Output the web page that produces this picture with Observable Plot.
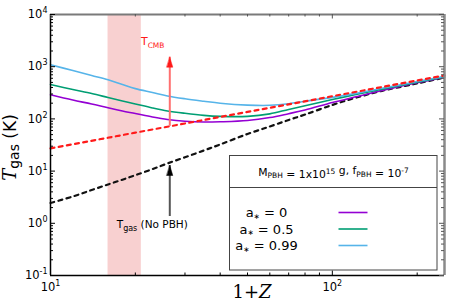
<!DOCTYPE html>
<html><head><meta charset="utf-8">
<script src="https://cdn.jsdelivr.net/npm/d3@7"></script>
<script src="https://cdn.jsdelivr.net/npm/@observablehq/plot@0.6"></script>
<style>body{margin:0;background:#fff;} svg{display:block;}</style>
</head><body><div id="chart"></div>
<script>
// ---- data ----
const redshift     = [10, 12, 14, 16, 18, 20, 23, 26, 30, 35, 40, 50, 60, 70, 80, 100, 120, 150, 200, 250];
const tgasSpin0    = [290, 230, 193, 163, 142, 127, 109, 97.5, 90, 87, 88, 93, 106, 126, 148, 206, 262, 350, 492, 628];
const tgasSpin05   = [456, 366, 307, 257, 220, 193, 162, 142, 128, 117, 112, 112, 125, 152, 178, 235, 290, 372, 505, 638];
const tgasSpin099  = [1087, 845, 678, 561, 455, 380, 320, 275, 243, 218, 200, 184, 182, 195, 218, 258, 305, 385, 520, 649];
const tgasNoPBH    = [2.45, 3.26, 4.34, 5.54, 6.85, 8.34, 10.9, 14.0, 18.4, 24.8, 32.4, 51.4, 71.5, 95.3, 121, 185, 251, 345, 478, 618];
const cmbRedshift  = [10, 20, 50, 100, 250];
const tcmb         = [27.3, 54.5, 136, 272, 681];
const bandRange    = [16, 21];
const spinLabels   = ["0", "0.5", "0.99"];
const seriesColors = ["#9400d3", "#009e73", "#56b4e9"];
const xMajor = [10, 100];
const xMinor = [20, 30, 40, 50, 60, 70, 80, 90, 200];
const yMajor = [0.1, 1, 10, 100, 1000, 10000];
const yMinor = yMajor.slice(0, -1).flatMap(v => [2,3,4,5,6,7,8,9].map(k => +(k * v).toPrecision(3)));
const arrowZ = 26.5;
const cmbArrow = [72, 1520];
const gasArrow = [1.35, 12.8];
const legendTitle = "M_PBH = 1x10^15 g, f_PBH = 10^-7";

// ---- tables ----
const spinSeries = [tgasSpin0, tgasSpin05, tgasSpin099];
const curves = spinSeries.flatMap((s, k) => redshift.map((z, i) => ({z, t: s[i], k})));
const noPBH = redshift.map((z, i) => ({z, t: tgasNoPBH[i]}));
const cmb = cmbRedshift.map((z, i) => ({z, t: tcmb[i]}));

const W = 471, H = 305, mL = 50, mR = 27, mT = 14, mB = 30;
const iW = W - mL - mR, iH = H - mT - mB;
const xDom = [10, 250], yDom = [0.1, 1e4];

const headShape = {draw(ctx, l, r) { ctx.moveTo(0, -l); ctx.lineTo(r, 0); ctx.lineTo(-r, 0); ctx.closePath(); }};

const plot = Plot.plot({
  width: W, height: H, marginLeft: mL, marginRight: mR, marginTop: mT, marginBottom: mB,
  style: {fontFamily: "DejaVu Sans, sans-serif", fontSize: "11.5px", background: "#fff", color: "#000"},
  x: {type: "log", domain: xDom},
  y: {type: "log", domain: yDom},
  marks: [
    Plot.rect([bandRange], {x1: d => d[0], x2: d => d[1], y1: yDom[0], y2: yDom[1], fill: "#f8d0d0"}),
    Plot.line(noPBH, {x: "z", y: "t", stroke: "#111", strokeWidth: 2.2, strokeDasharray: "4,4.3", curve: "catmull-rom"}),
    Plot.line(curves, {x: "z", y: "t", z: "k", stroke: d => seriesColors[d.k], strokeWidth: 1.6, curve: "catmull-rom"}),
    Plot.line(cmb, {x: "z", y: "t", stroke: "#ff1a1a", strokeWidth: 2.2, strokeDasharray: "4,4.3"}),
    // arrows
    Plot.ruleX([arrowZ], {y1: cmbArrow[0], y2: cmbArrow[1], stroke: "#ff7070", strokeWidth: 2}),
    Plot.vector([arrowZ], {x: d => d, y: cmbArrow[1], length: 10, anchor: "end", r: 3, shape: headShape, fill: "#ff1a1a", stroke: "#ff1a1a", strokeWidth: 0.5}),
    Plot.ruleX([arrowZ], {y1: gasArrow[0], y2: gasArrow[1], stroke: "#555", strokeWidth: 2}),
    Plot.vector([arrowZ], {x: d => d, y: gasArrow[1], length: 10, anchor: "end", r: 3, shape: headShape, fill: "#000", stroke: "#000", strokeWidth: 0.5}),
    // frame
    Plot.ruleY([yDom[1]], {stroke: "#7a7a7a", strokeWidth: 2}),
    Plot.ruleX([xDom[1]], {stroke: "#8a8a8a", strokeWidth: 2.5}),
    Plot.ruleX([xDom[0]], {stroke: "#000", strokeWidth: 1.5}),
    Plot.ruleY([yDom[0]], {stroke: "#000", strokeWidth: 1.5}),
    // inward ticks
    Plot.tickX(xMinor, {x: d => d, insetTop: iH - 2.5, stroke: "#000"}),
    Plot.tickX(xMajor, {x: d => d, insetTop: iH - 4.5, stroke: "#000"}),
    Plot.tickX(xMinor, {x: d => d, insetBottom: iH - 2.5, stroke: "#555"}),
    Plot.tickX(xMajor, {x: d => d, insetBottom: iH - 4.5, stroke: "#555"}),
    Plot.tickY(yMinor, {y: d => d, insetRight: iW - 3, stroke: "#000"}),
    Plot.tickY(yMajor, {y: d => d, insetRight: iW - 5, stroke: "#000"}),
    Plot.tickY(yMinor, {y: d => d, insetLeft: iW - 3, stroke: "#555"}),
    Plot.tickY(yMajor, {y: d => d, insetLeft: iW - 5, stroke: "#555"}),
    Plot.axisX({ticks: xMajor, tickSize: 0, tickPadding: 7, label: null, tickFormat: d => "10^" + Math.round(Math.log10(d))}),
    Plot.axisY({ticks: yMajor, tickSize: 0, tickPadding: 3, label: null, tickFormat: d => "10^" + Math.round(Math.log10(d))})
  ]
});
document.getElementById("chart").appendChild(plot);

const svg = d3.select(plot);
// superscript tick labels
svg.selectAll('g[aria-label="x-axis tick label"] text, g[aria-label="y-axis tick label"] text').each(function() {
  const s = d3.select(this);
  const [b, e] = s.text().split("^");
  s.text(null);
  s.append("tspan").text(b);
  s.append("tspan").attr("dy", "-5").attr("font-size", "8px").text(e);
});

const sx = plot.scale("x");
const ax = sx.apply(arrowZ);

// T_CMB label
const tc = svg.append("text").attr("x", ax - 16.6).attr("y", 45).attr("fill", "#ff1a1a")
  .attr("font-family", "DejaVu Sans, sans-serif").attr("font-size", "11px");
tc.append("tspan").text("T");
tc.append("tspan").attr("dy", 3).attr("font-size", "7.5px").text("CMB");

// T_gas (No PBH) label
const tg = svg.append("text").attr("x", ax - 17).attr("y", 227.7).attr("fill", "#000")
  .attr("font-family", "DejaVu Sans, sans-serif").attr("font-size", "10.5px");
tg.append("tspan").text("T");
tg.append("tspan").attr("dy", 3).attr("font-size", "8px").text("gas");
tg.append("tspan").attr("dy", -3).text(" (No PBH)");

// Y axis label
const yl = svg.append("text").attr("transform", `translate(16,${mT + iH / 2 + 3}) rotate(-90)`)
  .attr("text-anchor", "middle").attr("font-family", "DejaVu Sans, sans-serif").attr("fill", "#000");
yl.append("tspan").attr("font-family", "DejaVu Serif, serif").attr("font-style", "italic").attr("font-size", "18px").text("T");
yl.append("tspan").attr("dy", 3).attr("font-size", "14px").text("gas");
yl.append("tspan").attr("dy", -3).attr("font-size", "17px").text(" (K)");

// X axis label
const xl = svg.append("text").attr("x", mL + iW / 2 + 5).attr("y", 298).attr("text-anchor", "middle")
  .attr("font-family", "DejaVu Serif, serif").attr("font-size", "18px").attr("fill", "#000");
xl.append("tspan").text("1+");
xl.append("tspan").attr("font-style", "italic").text("Z");

// Legend box
const lg = svg.append("g").attr("font-family", "DejaVu Sans, sans-serif").attr("fill", "#000");
lg.append("rect").attr("x", 229.5).attr("y", 155.5).attr("width", 207.5).attr("height", 114.5)
  .attr("fill", "#fff").attr("stroke", "#444").attr("stroke-width", 1);
lg.append("line").attr("x1", 229.5).attr("x2", 437).attr("y1", 187.5).attr("y2", 187.5).attr("stroke", "#444");
const tt = lg.append("text").attr("x", 333.5).attr("y", 175.5).attr("text-anchor", "middle").attr("font-size", "10.8px");
legendTitle.split(/(_PBH|\^[-0-9]+)/).filter(s => s).forEach(part => {
  if (part.startsWith("_")) {
    tt.append("tspan").attr("dy", 2.5).attr("font-size", "7.5px").text(part.slice(1));
    tt.append("tspan").attr("dy", -2.5).text("");
  } else if (part.startsWith("^")) {
    tt.append("tspan").attr("dy", -4).attr("font-size", "7.5px").text(part.slice(1));
    tt.append("tspan").attr("dy", 4).text("");
  } else {
    tt.append("tspan").text(part);
  }
});
const entryY = [212.5, 229, 245.5];
spinLabels.forEach((lab, i) => {
  const t = lg.append("text").attr("x", 266.5).attr("y", entryY[i] + 4.5).attr("font-size", "13px");
  t.append("tspan").text("a");
  t.append("tspan").attr("dy", 1.5).attr("font-size", "7.5px").text("∗");
  t.append("tspan").attr("dy", -1.5).text(" = " + lab);
  lg.append("line").attr("x1", 338.5).attr("x2", 367.5).attr("y1", entryY[i]).attr("y2", entryY[i])
    .attr("stroke", seriesColors[i]).attr("stroke-width", 1.6);
});
</script>
</body></html>
